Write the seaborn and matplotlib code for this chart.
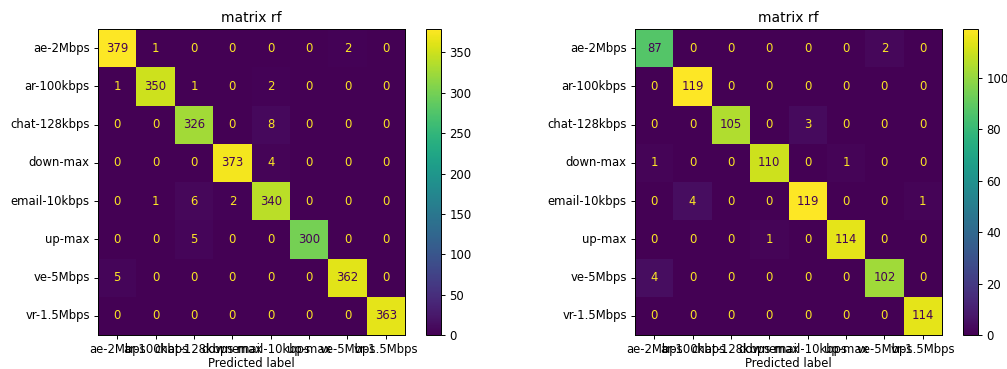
import numpy as np
import seaborn as sns
import matplotlib
matplotlib.use('Agg')
import matplotlib.pyplot as plt

# class labels (same for rows and columns)
labels = ['ae-2Mbps', 'ar-100kbps', 'chat-128kbps', 'down-max',
          'email-10kbps', 'up-max', 've-5Mbps', 'vr-1.5Mbps']

# left confusion matrix
cm_left = [
    [379, 1, 0, 0, 0, 0, 2, 0],
    [1, 350, 1, 0, 2, 0, 0, 0],
    [0, 0, 326, 0, 8, 0, 0, 0],
    [0, 0, 0, 373, 4, 0, 0, 0],
    [0, 1, 6, 2, 340, 0, 0, 0],
    [0, 0, 5, 0, 0, 300, 0, 0],
    [5, 0, 0, 0, 0, 0, 362, 0],
    [0, 0, 0, 0, 0, 0, 0, 363],
]

# right confusion matrix
cm_right = [
    [87, 0, 0, 0, 0, 0, 2, 0],
    [0, 119, 0, 0, 0, 0, 0, 0],
    [0, 0, 105, 0, 3, 0, 0, 0],
    [1, 0, 0, 110, 0, 1, 0, 0],
    [0, 4, 0, 0, 119, 0, 0, 1],
    [0, 0, 0, 1, 0, 114, 0, 0],
    [4, 0, 0, 0, 0, 0, 102, 0],
    [0, 0, 0, 0, 0, 0, 0, 114],
]

W, H = 1007, 369
fig = plt.figure(figsize=(W / 100, H / 100), dpi=100)
cmap = plt.get_cmap('viridis')
fs = 8.4  # reference looks like a downscaled render


def px_box(x0, x1, y0, y1):
    # pixel box -> figure fraction [left, bottom, width, height]
    return [x0 / W, 1 - y1 / H, (x1 - x0) / W, (y1 - y0) / H]


def draw_cm(cm, ax_box, cb_box, title):
    cm = np.array(cm)
    ax = fig.add_axes(px_box(*ax_box))
    cax = fig.add_axes(px_box(*cb_box))
    sns.heatmap(cm, ax=ax, cbar_ax=cax, cmap='viridis', annot=True, fmt='d',
                vmin=cm.min(), vmax=cm.max(),
                xticklabels=labels, yticklabels=labels,
                annot_kws={'fontsize': fs})
    # text colours like sklearn's ConfusionMatrixDisplay
    thresh = (cm.max() + cm.min()) / 2.0
    for txt, v in zip(ax.texts, cm.flatten()):
        txt.set_color(cmap(1.0) if v < thresh else cmap(0))
    for s in ax.spines.values():
        s.set_visible(True)
        s.set_linewidth(0.7)
    ax.tick_params(length=3, width=0.7, labelsize=fs, pad=3)
    plt.setp(ax.get_xticklabels(), rotation=0)
    plt.setp(ax.get_yticklabels(), rotation=0)
    ax.set_xlabel('Predicted label', fontsize=fs, labelpad=0.5)
    ax.set_ylabel('')
    ax.set_title(title, fontsize=10, pad=5)
    cb = ax.collections[0].colorbar
    cb.outline.set_linewidth(0.7)
    cax.tick_params(length=3, width=0.7, labelsize=fs, pad=3)
    return ax


draw_cm(cm_left, (98, 405, 29, 335), (426, 441, 29, 335), 'matrix rf')
draw_cm(cm_right, (635, 942, 29, 335), (963, 978, 29, 335), 'matrix rf')

fig.savefig('out.png', dpi=100)
